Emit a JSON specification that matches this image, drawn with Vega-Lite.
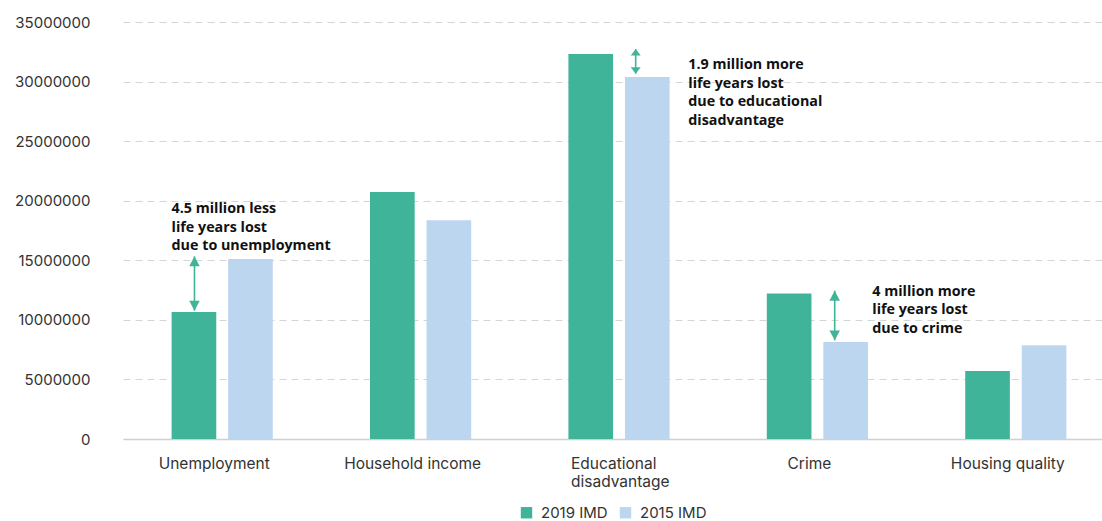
{
  "$schema": "https://vega.github.io/schema/vega-lite/v6.json",
  "width": 979,
  "height": 417,
  "autosize": "none",
  "padding": {"left": 123, "top": 22, "right": 0, "bottom": 82},
  "background": "white",
  "config": {
    "view": {"stroke": null},
    "font": "Inter",
    "axis": {"labelFont": "Inter", "labelFontSize": 15, "labelColor": "#333333", "titleFont": "Inter"}
  },
  "datasets": {
    "bars": [
      {"category": "Unemployment", "series": "2019 IMD", "value": 10660000},
      {"category": "Unemployment", "series": "2015 IMD", "value": 15110000},
      {"category": "Household income", "series": "2019 IMD", "value": 20730000},
      {"category": "Household income", "series": "2015 IMD", "value": 18350000},
      {"category": "Educational disadvantage", "series": "2019 IMD", "value": 32310000},
      {"category": "Educational disadvantage", "series": "2015 IMD", "value": 30380000},
      {"category": "Crime", "series": "2019 IMD", "value": 12220000},
      {"category": "Crime", "series": "2015 IMD", "value": 8140000},
      {"category": "Housing quality", "series": "2019 IMD", "value": 5710000},
      {"category": "Housing quality", "series": "2015 IMD", "value": 7860000}
    ],
    "notes": [
      {"category": "Unemployment", "top": 15330000, "bottom": 10770000, "note": "4.5 million less\nlife years lost\ndue to unemployment"},
      {"category": "Educational disadvantage", "top": 32730000, "bottom": 30660000, "note": "1.9 million more\nlife years lost\ndue to educational\ndisadvantage"},
      {"category": "Crime", "top": 12450000, "bottom": 8280000, "note": "4 million more\nlife years lost\ndue to crime"}
    ]
  },
  "layer": [
    {
      "data": {"name": "bars"},
      "mark": {"type": "bar"},
      "encoding": {
        "x": {
          "field": "category",
          "type": "nominal",
          "scale": {
            "domain": ["Unemployment", "Household income", "Educational disadvantage", "Crime", "Housing quality"],
            "range": [0, 992],
            "paddingInner": 0.49,
            "paddingOuter": 0.245
          },
          "axis": {
            "title": null,
            "labelAngle": 0,
            "ticks": false,
            "tickSize": 0,
            "domain": true,
            "domainColor": "#d0d0d0",
            "domainWidth": 1.5,
            "grid": false,
            "labelFontSize": 15.5,
            "labelPadding": 17,
            "labelLineHeight": 18.5,
            "labelBaseline": "top",
            "labelAlign": {"condition": {"test": "datum.value == 'Educational disadvantage'", "value": "left"}, "value": "center"},
            "labelOffset": {"condition": {"test": "datum.value == 'Educational disadvantage'", "value": -48}, "value": -8},
            "labelExpr": "datum.value == 'Educational disadvantage' ? ['Educational', 'disadvantage'] : datum.label"
          }
        },
        "xOffset": {
          "field": "series",
          "type": "nominal",
          "scale": {"domain": ["2019 IMD", "2015 IMD"], "paddingInner": 0.21, "paddingOuter": 0}
        },
        "y": {
          "field": "value",
          "type": "quantitative",
          "scale": {"domain": [0, 35000000], "nice": false},
          "axis": {
            "title": null,
            "values": [0, 5000000, 10000000, 15000000, 20000000, 25000000, 30000000, 35000000],
            "format": "d",
            "domain": false,
            "ticks": false,
            "tickSize": 0,
            "labelPadding": 33,
            "grid": true,
            "gridColor": "#d6d6d6",
            "gridDash": [7, 5],
            "gridWidth": 1
          }
        },
        "color": {
          "field": "series",
          "type": "nominal",
          "scale": {"domain": ["2019 IMD", "2015 IMD"], "range": ["#40b498", "#bdd6f0"]},
          "legend": {
            "title": null,
            "orient": "none",
            "direction": "horizontal",
            "legendX": 396,
            "legendY": 483,
            "symbolType": "square",
            "symbolSize": 130,
            "symbolStrokeWidth": 0,
            "labelFont": "Inter",
            "labelFontSize": 15,
            "labelColor": "#333333",
            "labelOffset": 7,
            "columnPadding": 10
          }
        }
      }
    },
    {
      "data": {"name": "notes"},
      "transform": [{"filter": "datum.category == 'Unemployment'"}],
      "encoding": {"x": {"field": "category", "type": "nominal", "bandPosition": 0.226}},
      "layer": [
        {"mark": {"type": "rule", "color": "#40b498", "strokeWidth": 1.6},
         "encoding": {"y": {"field": "top", "type": "quantitative"}, "y2": {"field": "bottom"}}},
        {"mark": {"type": "point", "shape": "M0,0L1,1.9L-1,1.9Z", "filled": true, "opacity": 1, "size": 110, "color": "#40b498", "strokeWidth": 0},
         "encoding": {"y": {"field": "top", "type": "quantitative"}}},
        {"mark": {"type": "point", "shape": "M0,0L1,-1.9L-1,-1.9Z", "filled": true, "opacity": 1, "size": 110, "color": "#40b498", "strokeWidth": 0},
         "encoding": {"y": {"field": "bottom", "type": "quantitative"}}},
        {"mark": {"type": "text", "lineBreak": "\n", "align": "left", "baseline": "alphabetic", "font": "Open Sans", "fontWeight": "bold", "fontSize": 14.3, "lineHeight": 18.5, "color": "#111111", "dx": -22.9, "dy": -43},
         "encoding": {"y": {"field": "top", "type": "quantitative"}, "text": {"field": "note", "type": "nominal"}}}
      ]
    },
    {
      "data": {"name": "notes"},
      "transform": [{"filter": "datum.category == 'Educational disadvantage'"}],
      "encoding": {"x": {"field": "category", "type": "nominal", "bandPosition": 0.665}},
      "layer": [
        {"mark": {"type": "rule", "color": "#40b498", "strokeWidth": 1.6},
         "encoding": {"y": {"field": "top", "type": "quantitative"}, "y2": {"field": "bottom"}}},
        {"mark": {"type": "point", "shape": "M0,0L1,1.3L-1,1.3Z", "filled": true, "opacity": 1, "size": 100, "color": "#40b498", "strokeWidth": 0},
         "encoding": {"y": {"field": "top", "type": "quantitative"}}},
        {"mark": {"type": "point", "shape": "M0,0L1,-1.3L-1,-1.3Z", "filled": true, "opacity": 1, "size": 100, "color": "#40b498", "strokeWidth": 0},
         "encoding": {"y": {"field": "bottom", "type": "quantitative"}}},
        {"mark": {"type": "text", "lineBreak": "\n", "align": "left", "baseline": "alphabetic", "font": "Open Sans", "fontWeight": "bold", "fontSize": 14.3, "lineHeight": 18.7, "color": "#111111", "dx": 52.6, "dy": 20},
         "encoding": {"y": {"field": "top", "type": "quantitative"}, "text": {"field": "note", "type": "nominal"}}}
      ]
    },
    {
      "data": {"name": "notes"},
      "transform": [{"filter": "datum.category == 'Crime'"}],
      "encoding": {"x": {"field": "category", "type": "nominal", "bandPosition": 0.671}},
      "layer": [
        {"mark": {"type": "rule", "color": "#40b498", "strokeWidth": 1.6},
         "encoding": {"y": {"field": "top", "type": "quantitative"}, "y2": {"field": "bottom"}}},
        {"mark": {"type": "point", "shape": "M0,0L1,1.9L-1,1.9Z", "filled": true, "opacity": 1, "size": 110, "color": "#40b498", "strokeWidth": 0},
         "encoding": {"y": {"field": "top", "type": "quantitative"}}},
        {"mark": {"type": "point", "shape": "M0,0L1,-1.9L-1,-1.9Z", "filled": true, "opacity": 1, "size": 110, "color": "#40b498", "strokeWidth": 0},
         "encoding": {"y": {"field": "bottom", "type": "quantitative"}}},
        {"mark": {"type": "text", "lineBreak": "\n", "align": "left", "baseline": "alphabetic", "font": "Open Sans", "fontWeight": "bold", "fontSize": 14.3, "lineHeight": 18.5, "color": "#111111", "dx": 37.6, "dy": 5.2},
         "encoding": {"y": {"field": "top", "type": "quantitative"}, "text": {"field": "note", "type": "nominal"}}}
      ]
    }
  ]
}
